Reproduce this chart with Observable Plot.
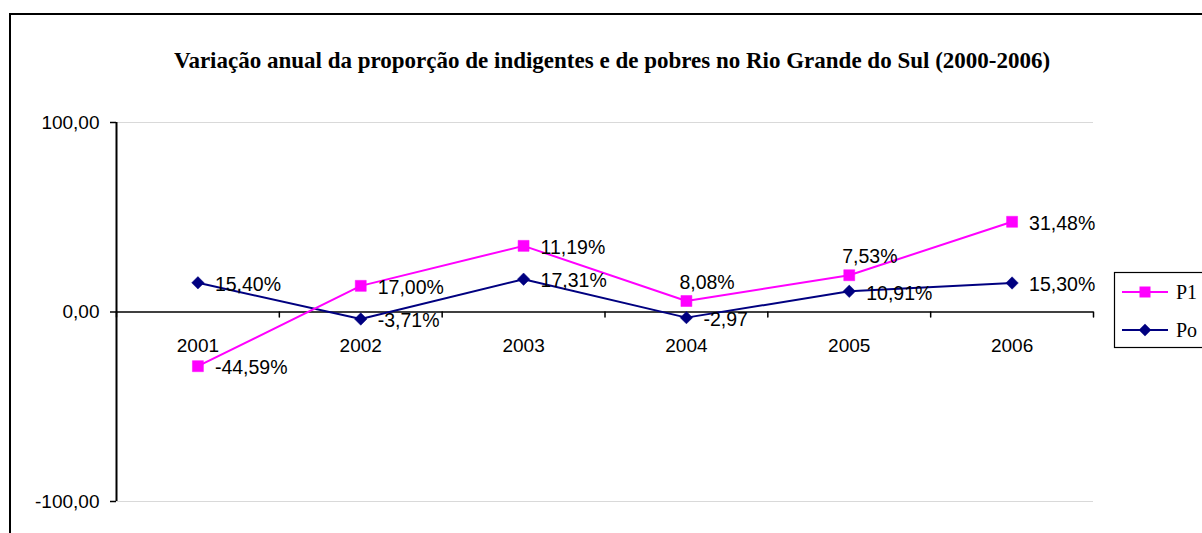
<!DOCTYPE html>
<html><head><meta charset="utf-8">
<script src="https://cdn.jsdelivr.net/npm/d3@7"></script>
<script src="https://cdn.jsdelivr.net/npm/@observablehq/plot@0.6"></script>
<style>
body{margin:0;background:#fff}
#chart{position:relative;width:1202px;height:533px;overflow:hidden;background:#fff}
</style>
</head><body><div id="chart"></div>
<script>
const title = "Variação anual da proporção de indigentes e de pobres no Rio Grande do Sul (2000-2006)";
const years = ["2001", "2002", "2003", "2004", "2005", "2006"];
const p1Values = [-28.6, 13.8, 34.9, 5.8, 19.4, 47.6];
const p1Labels = ["-44,59%", "17,00%", "11,19%", "8,08%", "7,53%", "31,48%"];
const poValues = [15.40, -3.71, 17.31, -2.97, 10.91, 15.30];
const poLabels = ["15,40%", "-3,71%", "17,31%", "-2,97", "10,91%", "15,30%"];
const yTicks = [-100, 0, 100];
const seriesNames = ["P1", "Po"];
const seriesColors = ["#FF00FF", "#000080"];
const p1LabelsAbove = ["2004", "2005"];

const sans = "Arial, 'Liberation Sans', sans-serif";
const serif = "'Times New Roman', 'Liberation Serif', serif";

const p1Rows = years.map((year, i) => ({year, i, value: p1Values[i], label: p1Labels[i]}));
const poRows = years.map((year, i) => ({year, i, value: poValues[i], label: poLabels[i]}));
const xPos = d => d.i + 0.5;
const tickShape = {draw(ctx, l) { ctx.moveTo(0, 0); ctx.lineTo(0, -l); }};

const plot = Plot.plot({
  width: 1202, height: 533,
  marginLeft: 116, marginRight: 109, marginTop: 122, marginBottom: 32,
  style: {fontFamily: sans, fontSize: "19px", background: "transparent", color: "black"},
  x: {domain: [0, years.length], axis: null},
  y: {domain: [-100, 100], axis: null},
  marks: [
    Plot.ruleY([-100, 100], {stroke: "#d9d9d9", strokeWidth: 1}),
    Plot.axisY({ticks: yTicks, tickSize: 6, tickPadding: 11, tickFormat: d => d.toFixed(2).replace(".", ","), fontSize: 19, stroke: "black", strokeWidth: 1.5, label: null, fill: "black"}),
    Plot.ruleX([0], {stroke: "black", strokeWidth: 2}),
    Plot.ruleY([0], {stroke: "black", strokeWidth: 1.5}),
    Plot.vector(d3.range(0, years.length + 1), {x: d => d, y: 0, length: 5, rotate: 180, anchor: "start", shape: tickShape, stroke: "black", strokeWidth: 1.5}),
    Plot.text(years, {x: (d, i) => i + 0.5, y: 0, dy: 34, text: d => d, fill: "black", fontSize: 19}),
    Plot.line(poRows, {x: xPos, y: "value", stroke: seriesColors[1], strokeWidth: 2}),
    Plot.line(p1Rows, {x: xPos, y: "value", stroke: seriesColors[0], strokeWidth: 2}),
    Plot.dot(poRows, {x: xPos, y: "value", symbol: "diamond2", r: 5.6, fill: seriesColors[1], stroke: seriesColors[1], strokeWidth: 0.5}),
    Plot.dot(p1Rows, {x: xPos, y: "value", symbol: "square", r: 6.2, fill: seriesColors[0], stroke: seriesColors[0], strokeWidth: 0.5}),
    Plot.text(poRows, {x: xPos, y: "value", text: "label", textAnchor: "start", dx: 17, dy: 2, fill: "black", fontSize: 19.5}),
    Plot.text(p1Rows.filter(d => !p1LabelsAbove.includes(d.year)), {x: xPos, y: "value", text: "label", textAnchor: "start", dx: 17, dy: 2, fill: "black", fontSize: 19.5}),
    Plot.text(p1Rows.filter(d => p1LabelsAbove.includes(d.year)), {x: xPos, y: "value", text: "label", textAnchor: "start", dx: -7, dy: -18, fill: "black", fontSize: 19.5}),
    Plot.text([title], {frameAnchor: "top", dx: 7, dy: -71, text: d => d, fontFamily: serif, fontWeight: "bold", fontSize: 23, fill: "black"})
  ]
});
document.getElementById("chart").appendChild(plot);

// Outer chart border (cropped at right/bottom) and legend
const svg = d3.select(plot);
svg.append("path").attr("d", "M10,533V14H1202").attr("fill", "none").attr("stroke", "black").attr("stroke-width", 2);
const lg = svg.append("g").attr("text-anchor", "start");
lg.append("rect").attr("x", 1114.5).attr("y", 272.5).attr("width", 200).attr("height", 75).attr("fill", "white").attr("stroke", "black").attr("stroke-width", 1.2);
seriesNames.forEach((name, i) => {
  const cy = 292 + i * 38;
  lg.append("line").attr("x1", 1122).attr("x2", 1168).attr("y1", cy).attr("y2", cy).attr("stroke", seriesColors[i]).attr("stroke-width", 2);
  const sym = i === 0 ? d3.symbol(d3.symbolSquare, 121) : d3.symbol(d3.symbolDiamond2, 100);
  lg.append("path").attr("d", sym()).attr("transform", `translate(1145,${cy})`).attr("fill", seriesColors[i]);
  lg.append("text").attr("x", 1176).attr("y", cy).attr("dy", "0.35em").attr("text-anchor", "start").attr("font-family", serif).attr("font-size", 20).attr("fill", "black").text(name);
});
</script>
</body></html>
